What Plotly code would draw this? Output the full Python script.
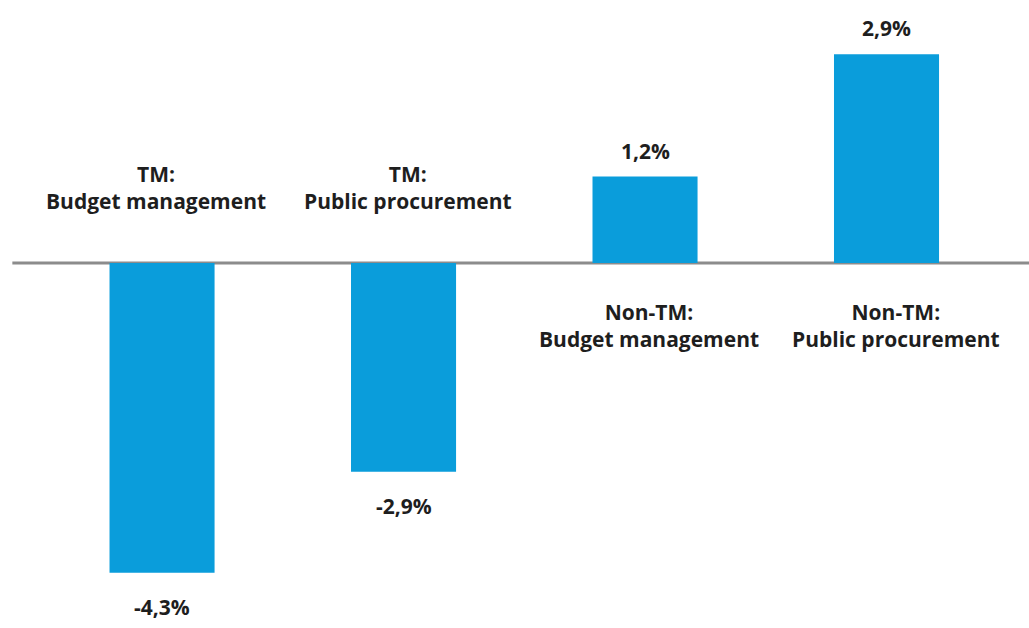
import plotly.graph_objects as go

# Change in share, by group and area
groups = ["TM:", "TM:", "Non-TM:", "Non-TM:"]
areas = ["Budget management", "Public procurement", "Budget management", "Public procurement"]
values = [-4.3, -2.9, 1.2, 2.9]
value_labels = ["-4,3%", "-2,9%", "1,2%", "2,9%"]

BAR_COLOR = "#0a9ddb"
TEXT_COLOR = "#1e1e1e"
FONT = "Open Sans"
# horizontal nudges for the category labels
LABEL_XSHIFT = [-6, 4, 4, 9]

cats = [f"{g} {a} {i}" for i, (g, a) in enumerate(zip(groups, areas))]

fig = go.Figure(
    go.Bar(
        x=cats,
        y=values,
        marker=dict(color=BAR_COLOR, line=dict(width=0)),
        width=0.435,
        hoverinfo="skip",
    )
)

annotations = []
for c, g, a, v, lab, dx in zip(cats, groups, areas, values, value_labels, LABEL_XSHIFT):
    # value label just beyond the bar end
    annotations.append(dict(
        x=c, y=v, text=f"<b>{lab}</b>", showarrow=False,
        yanchor="bottom" if v > 0 else "top",
        yshift=10 if v > 0 else -18,
        font=dict(family=FONT, size=21, color=TEXT_COLOR),
    ))
    # category label on the opposite side of the zero line
    annotations.append(dict(
        x=c, y=0, text=f"<b>{g}<br>{a}</b>", showarrow=False,
        xshift=dx,
        yanchor="bottom" if v < 0 else "top",
        yshift=46 if v < 0 else -33,
        font=dict(family=FONT, size=21, color=TEXT_COLOR),
    ))

fig.update_layout(
    width=1029,
    height=628,
    margin=dict(l=0, r=0, t=0, b=0),
    paper_bgcolor="white",
    plot_bgcolor="white",
    showlegend=False,
    annotations=annotations,
    xaxis=dict(
        range=[-0.671, 3.59],
        showticklabels=False,
        showgrid=False,
        zeroline=False,
        showline=False,
        ticks="",
        fixedrange=True,
    ),
    yaxis=dict(
        range=[-5.069, 3.653],
        showticklabels=False,
        showgrid=False,
        zeroline=False,
        showline=False,
        ticks="",
        fixedrange=True,
    ),
    shapes=[dict(
        type="line", xref="paper", yref="y",
        x0=0.012, x1=1, y0=0, y1=0,
        line=dict(color="#8c8c8c", width=3),
        layer="below",
    )],
)

fig.write_html("out.html")
